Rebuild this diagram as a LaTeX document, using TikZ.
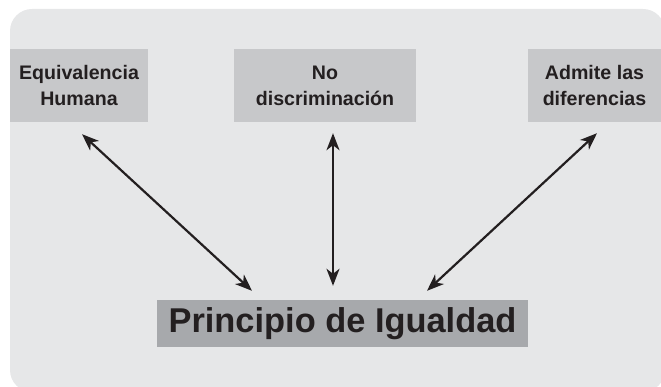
\documentclass[tikz,border=0pt]{standalone}
\usepackage{fontspec}
\setmainfont{Liberation Sans}
\usetikzlibrary{arrows.meta,calc}
\definecolor{fondo}{HTML}{E6E7E8}
\definecolor{griscaja}{HTML}{C7C8CA}
\definecolor{grisprin}{HTML}{A7A9AC}
\definecolor{tinta}{HTML}{231F20}

\begin{document}
\begin{tikzpicture}[x=1pt,y=-1pt,>={Stealth[length=17pt,width=13pt,inset=5pt]},
	recuadro/.style={fill=griscaja,inner sep=0pt,text=tinta,align=center,minimum height=73pt,font=\fontsize{19.6}{26}\selectfont\bfseries},
	flecha/.style={<->,line width=2.2pt,draw=tinta,fill=tinta}]
	\useasboundingbox (0,0) rectangle (661,387);
	%Fondo
	\fill[fondo,rounded corners=22pt] (10,9) rectangle (665,392);
	%Recuadros
	\node[recuadro,minimum width=138pt] (equiv) at (79,85.5) {Equivalencia\\Humana};
	\node[recuadro,minimum width=182pt] (nodisc) at (325,85.5) {No\\discriminación};
	\node[recuadro,minimum width=133pt] (admite) at (594.5,85.5) {Admite las\\diferencias};
	%Principio
	\node[fill=grisprin,text=tinta,inner sep=0pt,minimum width=371pt,minimum height=47pt,font=\fontsize{34.4}{40}\selectfont\bfseries] (principio) at (342.5,323.5) {Principio de Igualdad};
	%Flechas
	\draw[flecha] ($(equiv.south)+(3,12)$) -- ($(principio.north)+(-90.5,-9)$);
	\draw[flecha] ($(nodisc.south)+(8,11)$) -- ($(principio.north)+(-9.5,-14)$);
	\draw[flecha] ($(admite.south)+(2.5,11)$) -- ($(principio.north)+(84.5,-9)$);
\end{tikzpicture}
\end{document}
